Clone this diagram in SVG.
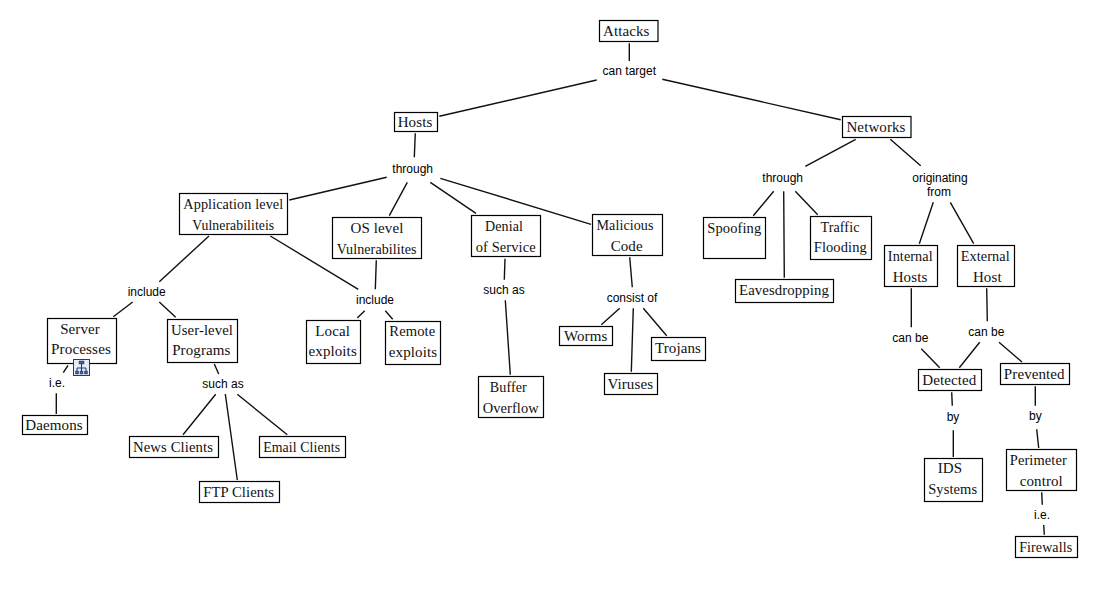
<svg xmlns="http://www.w3.org/2000/svg" width="1117" height="598" viewBox="0 0 1117 598">
<style>
.n rect{fill:#fff;stroke:#000;stroke-width:1.2}
.n text{font:15px "Liberation Serif","Times New Roman",serif;fill:#111;text-anchor:middle;letter-spacing:.1px}
.l text{font:12px "Liberation Sans",Arial,sans-serif;fill:#000;text-anchor:middle}
#connectors path{stroke:#111;stroke-width:1.4;fill:none}
</style>
<rect width="1117" height="598" fill="#fff"/>
<g id="connectors">
<path d="M629.3 43.3V61M596.7 80L439.3 116.3M662.3 79.3L840.7 119.7M415.3 133.3L414.3 157.3M386.7 177.3L289.3 200M407.3 182.3L389.3 215.7M430.3 182.3L476 213.3M440.3 178.3L591 224.3"/>
<path d="M209 236L159.3 281.7M270.3 236L358.3 289.3M132.7 302L113.3 316.7M159.3 302L175.7 317.3M68 365.3L63.3 372.7M56.3 393.3V414M214.3 364L218.7 374M215.7 394.3L183 434.7M225.3 394L237.3 480M237.3 394.3L287.3 434.7"/>
<path d="M376.3 260.3L375.3 289.3M364.7 310.7L357.3 318M385.3 310.7L392.7 319.3M505 258.7L504.3 279.7M505.3 300.3L510.3 374.7M629.7 257.3L632.3 287.3M619.7 308.3L601.3 324.7M633.3 308.3L631.3 371.7M643.3 308.3L666.7 335.7"/>
<path d="M855.7 139.3L805.3 166.3M890.3 139.3L920.7 165.7M773.7 191.3L753.3 215.7M783.7 191.3L784.3 277.7M795.3 191.3L817.7 214.7M933.3 202.3L919.3 243.7M950.3 202.3L973.7 243.7M911.3 288.3V327.3M986.7 288.3L987.3 321.3M921.3 348.7L939.7 367.7M979.7 342.3L959.3 367.7M999 342.3L1022 362"/>
<path d="M951.7 392.3L952.3 405.7M953.3 430.3V457M1035.3 386.3V405.7M1036.7 429.3L1038.7 448M1041.7 492.3L1042.3 504.7M1043.7 525L1044.3 534.7"/>
</g>
<g id="attacks" class="n"><rect x="599.5" y="20.5" width="58.5" height="21"/><text x="626.3" y="36">Attacks</text></g>
<g id="hosts" class="n"><rect x="394.5" y="112.5" width="43" height="19"/><text x="415" y="126.7">Hosts</text></g>
<g id="networks" class="n"><rect x="842.5" y="116.5" width="68.5" height="21"/><text x="876" y="132">Networks</text></g>
<g id="app-level" class="n"><rect x="179.5" y="193.5" width="108" height="41"/><text x="233.3" y="209.3" textLength="100" lengthAdjust="spacingAndGlyphs">Application level</text><text x="233.3" y="230" textLength="82" lengthAdjust="spacingAndGlyphs">Vulnerabiliteis</text></g>
<g id="os-level" class="n"><rect x="332.5" y="217.5" width="89" height="41"/><text x="377" y="233">OS level</text><text x="376.7" y="254" textLength="80" lengthAdjust="spacingAndGlyphs">Vulnerabilites</text></g>
<g id="dos" class="n"><rect x="471.5" y="215.5" width="69" height="41"/><text x="504" y="231" textLength="38" lengthAdjust="spacingAndGlyphs">Denial</text><text x="505.7" y="252" textLength="60" lengthAdjust="spacingAndGlyphs">of Service</text></g>
<g id="malicious" class="n"><rect x="592.5" y="214.5" width="70" height="41"/><text x="625" y="230.3" textLength="57" lengthAdjust="spacingAndGlyphs">Malicious</text><text x="626.7" y="251">Code</text></g>
<g id="spoofing" class="n"><rect x="703.5" y="217.5" width="62" height="41"/><text x="734.3" y="233.3" textLength="54" lengthAdjust="spacingAndGlyphs">Spoofing</text></g>
<g id="traffic" class="n"><rect x="810.5" y="216.5" width="61" height="43"/><text x="840" y="231.7" textLength="39" lengthAdjust="spacingAndGlyphs">Traffic</text><text x="840.3" y="252" textLength="53" lengthAdjust="spacingAndGlyphs">Flooding</text></g>
<g id="eavesdropping" class="n"><rect x="735.5" y="279.5" width="98" height="23"/><text x="784" y="295.3" textLength="90" lengthAdjust="spacingAndGlyphs">Eavesdropping</text></g>
<g id="internal" class="n"><rect x="884.5" y="245.5" width="53" height="41"/><text x="910.3" y="261.3" textLength="45" lengthAdjust="spacingAndGlyphs">Internal</text><text x="910" y="282">Hosts</text></g>
<g id="external" class="n"><rect x="957.5" y="245.5" width="57" height="41"/><text x="985.3" y="261.3" textLength="49" lengthAdjust="spacingAndGlyphs">External</text><text x="987.3" y="282">Host</text></g>
<g id="detected" class="n"><rect x="918.5" y="369.5" width="63" height="21"/><text x="949.3" y="385">Detected</text></g>
<g id="prevented" class="n"><rect x="1000.5" y="363.5" width="69" height="21"/><text x="1034.3" y="379">Prevented</text></g>
<g id="ids" class="n"><rect x="924.5" y="458.5" width="58" height="43"/><text x="950" y="473.3">IDS</text><text x="952.7" y="494" textLength="49" lengthAdjust="spacingAndGlyphs">Systems</text></g>
<g id="perimeter" class="n"><rect x="1006.5" y="449.5" width="70" height="41"/><text x="1038.3" y="465" textLength="57" lengthAdjust="spacingAndGlyphs">Perimeter</text><text x="1041.3" y="486">control</text></g>
<g id="firewalls" class="n"><rect x="1015.5" y="536.5" width="62" height="21"/><text x="1045.7" y="552" textLength="53" lengthAdjust="spacingAndGlyphs">Firewalls</text></g>
<g id="server" class="n"><rect x="47.5" y="318.5" width="69" height="45"/><text x="80" y="334">Server</text><text x="81" y="354" textLength="60" lengthAdjust="spacingAndGlyphs">Processes</text></g>
<g id="user-level" class="n"><rect x="167.5" y="319.5" width="70" height="43"/><text x="202" y="335" textLength="62" lengthAdjust="spacingAndGlyphs">User-level</text><text x="201.3" y="355">Programs</text></g>
<g id="local" class="n"><rect x="306.5" y="320.5" width="54" height="43"/><text x="332.7" y="336">Local</text><text x="332.7" y="356">exploits</text></g>
<g id="remote" class="n"><rect x="385.5" y="321.5" width="55" height="43"/><text x="412.3" y="336" textLength="46" lengthAdjust="spacingAndGlyphs">Remote</text><text x="413" y="357.3">exploits</text></g>
<g id="buffer" class="n"><rect x="478.5" y="376.5" width="65" height="41"/><text x="508.3" y="392" textLength="37" lengthAdjust="spacingAndGlyphs">Buffer</text><text x="510.7" y="413.3" textLength="56" lengthAdjust="spacingAndGlyphs">Overflow</text></g>
<g id="worms" class="n"><rect x="559.5" y="326.5" width="53" height="19"/><text x="585.7" y="341">Worms</text></g>
<g id="trojans" class="n"><rect x="651.5" y="337.5" width="54" height="23"/><text x="678" y="353.3">Trojans</text></g>
<g id="viruses" class="n"><rect x="604.5" y="373.5" width="53" height="21"/><text x="630.3" y="389.3">Viruses</text></g>
<g id="daemons" class="n"><rect x="22.5" y="415.500" width="65" height="19"/><text x="54" y="430">Daemons</text></g>
<g id="news" class="n"><rect x="129.5" y="436.5" width="89" height="21"/><text x="173" y="452" textLength="80" lengthAdjust="spacingAndGlyphs">News Clients</text></g>
<g id="email" class="n"><rect x="259.5" y="436.5" width="86" height="21"/><text x="301.7" y="452" textLength="77" lengthAdjust="spacingAndGlyphs">Email Clients</text></g>
<g id="ftp" class="n"><rect x="199.5" y="481.5" width="80" height="21"/><text x="238.7" y="497" textLength="71" lengthAdjust="spacingAndGlyphs">FTP Clients</text></g>
<g id="hierarchy-icon">
<rect x="73.5" y="359.5" width="16" height="16" fill="#e8eef8" stroke="#223a70" stroke-width="1"/>
<path d="M81.5 364V368M77 372V368H86V372M81.5 368V372" fill="none" stroke="#223a70"/>
<path d="M79 361h5v3h-5zM75.500 371h3v3h-3zM80 371h3v3h-3zM84.500 371h3v3h-3z" fill="#3f5fa8" stroke="#223a70" stroke-width=".5"/>
</g>
<g id="lbl-can-target" class="l"><text x="629.3" y="75">can target</text></g>
<g id="lbl-through-hosts" class="l"><text x="412.700" y="173">through</text></g>
<g id="lbl-include-app" class="l"><text x="146.700" y="296">include</text></g>
<g id="lbl-include-os" class="l"><text x="375" y="304">include</text></g>
<g id="lbl-such-as-dos" class="l"><text x="504" y="294">such as</text></g>
<g id="lbl-consist-of" class="l"><text x="632" y="302">consist of</text></g>
<g id="lbl-such-as-user" class="l"><text x="223" y="388.300">such as</text></g>
<g id="lbl-ie-server" class="l"><text x="57" y="387.300">i.e.</text></g>
<g id="lbl-through-networks" class="l"><text x="782.700" y="182.300">through</text></g>
<g id="lbl-originating" class="l"><text x="940" y="181.700">originating</text><text x="939" y="196">from</text></g>
<g id="lbl-can-be-internal" class="l"><text x="910.300" y="342">can be</text></g>
<g id="lbl-can-be-external" class="l"><text x="986.300" y="336">can be</text></g>
<g id="lbl-by-detected" class="l"><text x="953" y="420.700">by</text></g>
<g id="lbl-by-prevented" class="l"><text x="1035.300" y="420">by</text></g>
<g id="lbl-ie-perimeter" class="l"><text x="1042" y="519.300">i.e.</text></g>
</svg>
